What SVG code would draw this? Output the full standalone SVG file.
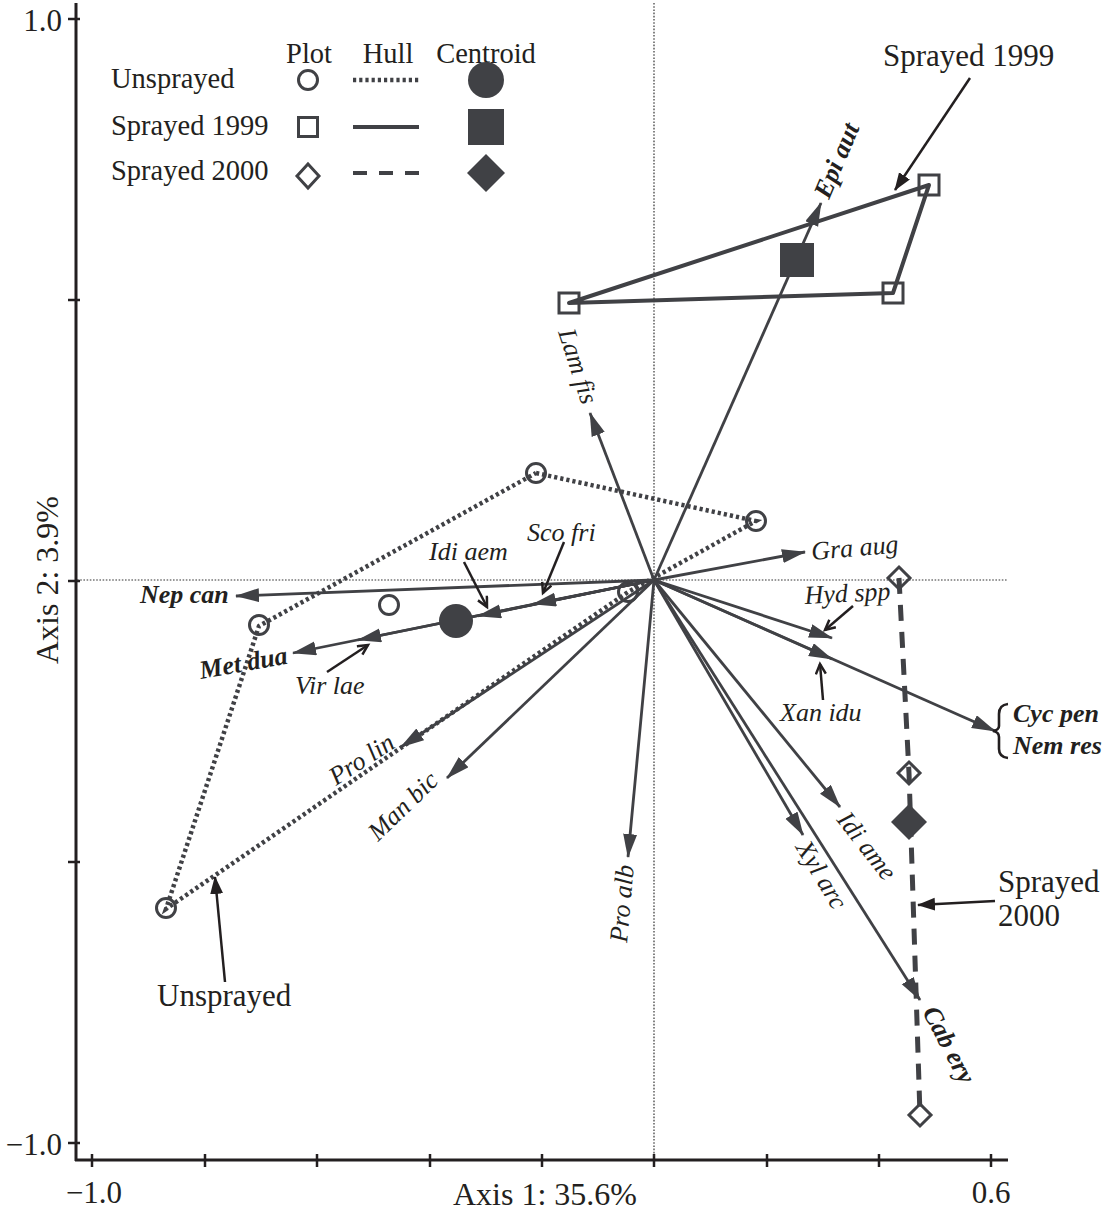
<svg xmlns="http://www.w3.org/2000/svg" width="1109" height="1212" viewBox="0 0 1109 1212">
<defs>
<marker id="ah" markerUnits="userSpaceOnUse" markerWidth="26" markerHeight="16" refX="23" refY="7" orient="auto"><path d="M0,0 L24,7 L0,14 z" fill="#404145"/></marker>
<marker id="fh" markerUnits="userSpaceOnUse" markerWidth="20" markerHeight="14" refX="17" refY="6.5" orient="auto"><path d="M0,0 L18,6.5 L0,13 z" fill="#231f20"/></marker>
<marker id="vh" markerUnits="userSpaceOnUse" markerWidth="14" markerHeight="14" refX="11" refY="6" orient="auto"><path d="M1,1 L11,6 L1,11" fill="none" stroke="#231f20" stroke-width="2.5"/></marker>
</defs>
<style>
.ax{stroke:#231f20;stroke-width:3;fill:none}
.tk{stroke:#231f20;stroke-width:2.5}
.ref{stroke:#333;stroke-width:1.2;stroke-dasharray:1.6 1.6;fill:none}
.sp{stroke:#404145;stroke-width:2.8;fill:none;marker-end:url(#ah)}
.ptr{stroke:#231f20;stroke-width:2.5;fill:none;marker-end:url(#vh)}
.call{stroke:#231f20;stroke-width:2.5;fill:none;marker-end:url(#fh)}
.hu{stroke:#404145;stroke-width:4.5;fill:none;stroke-dasharray:3.2 3}
.h99{stroke:#404145;stroke-width:4;fill:none;stroke-linejoin:round}
.h00{stroke:#404145;stroke-width:5;fill:none;stroke-dasharray:16 11}
.pt{fill:none;stroke:#404145;stroke-width:3}
.lg{fill:#fff;stroke:#404145;stroke-width:3}
.cen{fill:#404145;stroke:none}
.t{font-family:"Liberation Serif","Times New Roman",serif;fill:#231f20}
.lab{font-family:"Liberation Serif","Times New Roman",serif;font-style:italic;font-size:26px;fill:#231f20}
.b{font-weight:bold}
</style>

<g id="axes">
<line class="ax" x1="76" y1="3" x2="76" y2="1161"/>
<line class="ax" x1="75" y1="1160" x2="1008" y2="1160"/>
<g class="tk">
<line x1="68" y1="19" x2="80" y2="19"/><line x1="68" y1="300" x2="80" y2="300"/><line x1="68" y1="581" x2="80" y2="581"/><line x1="68" y1="862" x2="80" y2="862"/><line x1="68" y1="1143" x2="80" y2="1143"/>
<line x1="92" y1="1154" x2="92" y2="1167"/><line x1="205" y1="1154" x2="205" y2="1167"/><line x1="317" y1="1154" x2="317" y2="1167"/><line x1="430" y1="1154" x2="430" y2="1167"/><line x1="542" y1="1154" x2="542" y2="1167"/><line x1="654" y1="1154" x2="654" y2="1167"/><line x1="767" y1="1154" x2="767" y2="1167"/><line x1="879" y1="1154" x2="879" y2="1167"/><line x1="991" y1="1154" x2="991" y2="1167"/>
</g>
<text class="t" x="62" y="31" font-size="31" text-anchor="end">1.0</text>
<text class="t" x="62" y="1155" font-size="31" text-anchor="end">−1.0</text>
<text class="t" x="94" y="1203" font-size="31" text-anchor="middle">−1.0</text>
<text class="t" x="991" y="1203" font-size="31" text-anchor="middle">0.6</text>
<text class="t" x="545" y="1205" font-size="32" text-anchor="middle">Axis 1: 35.6%</text>
<text class="t" font-size="32" text-anchor="middle" transform="translate(58,580) rotate(-90)">Axis 2: 3.9%</text>
<line class="ref" x1="654" y1="3" x2="654" y2="1158"/>
<line class="ref" x1="77" y1="580" x2="1008" y2="580"/>
</g>

<g id="legend">
<text class="t" font-size="28.5" x="309" y="63" text-anchor="middle">Plot</text>
<text class="t" font-size="28.5" x="388" y="63" text-anchor="middle">Hull</text>
<text class="t" font-size="28.5" x="486" y="63" text-anchor="middle">Centroid</text>
<text class="t" font-size="28.5" x="111" y="88">Unsprayed</text>
<text class="t" font-size="28.5" x="111" y="135">Sprayed 1999</text>
<text class="t" font-size="28.5" x="111" y="180">Sprayed 2000</text>
<circle class="lg" cx="308" cy="80" r="9.5"/>
<rect class="lg" x="298.5" y="117.5" width="19" height="19"/>
<path class="lg" d="M308,164 L319,176 L308,188 L297,176 z"/>
<line class="hu" x1="353" y1="80" x2="419" y2="80"/>
<line class="h99" x1="353" y1="127" x2="419" y2="127"/>
<line class="h00" x1="353" y1="173" x2="419" y2="173" style="stroke-dasharray:14 12;stroke-width:4"/>
<circle class="cen" cx="486" cy="80" r="18"/>
<rect class="cen" x="468" y="109" width="36" height="36"/>
<path class="cen" d="M486,154 L505,173 L486,192 L467,173 z"/>
</g>

<g id="unsprayed-plot-hidden"><circle class="pt" cx="628" cy="592" r="9.5"/></g>

<g id="connectors">
<polyline class="hu" points="536,473 756,521 628,592 166,909 259,626 536,473"/>
<polygon class="h99" points="569,303 929,185 893,293"/>
<polyline class="h00" points="899,578 909,773 920,1115"/>
<line class="sp" x1="654" y1="580" x2="821" y2="203"/>
<line class="sp" x1="654" y1="580" x2="590" y2="413"/>
<line class="sp" x1="654" y1="580" x2="805" y2="552"/>
<line class="sp" x1="654" y1="580" x2="832" y2="638"/>
<line class="sp" x1="654" y1="580" x2="832" y2="659"/>
<line class="sp" x1="654" y1="580" x2="995" y2="731"/>
<line class="sp" x1="654" y1="580" x2="840" y2="807"/>
<line class="sp" x1="654" y1="580" x2="803" y2="835"/>
<line class="sp" x1="654" y1="580" x2="920" y2="1000"/>
<line class="sp" x1="654" y1="580" x2="628" y2="857"/>
<line class="sp" x1="654" y1="580" x2="447" y2="778"/>
<line class="sp" x1="654" y1="580" x2="401" y2="747"/>
<line class="sp" x1="654" y1="580" x2="293" y2="653"/>
<line class="sp" x1="654" y1="580" x2="358" y2="640"/>
<line class="sp" x1="654" y1="580" x2="478" y2="616"/>
<line class="sp" x1="654" y1="580" x2="533" y2="604"/>
<line class="sp" x1="654" y1="580" x2="236" y2="596"/>
<line class="ptr" x1="464" y1="562" x2="487" y2="607"/>
<line class="ptr" x1="564" y1="542" x2="543" y2="593"/>
<line class="ptr" x1="327" y1="672" x2="368" y2="645"/>
<line class="ptr" x1="853" y1="606" x2="825" y2="630"/>
<line class="ptr" x1="823" y1="700" x2="820" y2="664"/>
<line class="call" x1="970" y1="78" x2="895" y2="190"/>
<line class="call" x1="995" y1="901" x2="918" y2="905"/>
<line class="call" x1="225" y1="982" x2="215" y2="877"/>
<path d="M1008,704 Q999,705 999,714 L999,726 Q999,730 993,731 Q999,732 999,737 L999,749 Q999,757 1008,758" fill="none" stroke="#231f20" stroke-width="2.6"/>
</g>

<g id="unsprayed-plots">
<circle class="pt" cx="536" cy="473" r="9.5"/>
<circle class="pt" cx="756" cy="521" r="9.5"/>
<circle class="pt" cx="259" cy="625" r="9.5"/>
<circle class="pt" cx="166" cy="908" r="9.5"/>
<circle class="pt" cx="389" cy="605" r="9.5"/>
</g>
<g id="unsprayed-centroid"><circle class="cen" cx="456" cy="621" r="17"/></g>
<g id="sprayed1999-plots">
<rect class="pt" x="559" y="293" width="20" height="20"/>
<rect class="pt" x="919" y="175" width="20" height="20"/>
<rect class="pt" x="883" y="283" width="20" height="20"/>
</g>
<g id="sprayed1999-centroid"><rect class="cen" x="780" y="243" width="34" height="34"/></g>
<g id="sprayed2000-plots">
<path class="pt" d="M899,567 L910,578 L899,589 L888,578 z"/>
<path class="pt" d="M909,762 L920,773 L909,784 L898,773 z"/>
<path class="pt" d="M920,1104 L931,1115 L920,1126 L909,1115 z"/>
</g>
<g id="sprayed2000-centroid"><path class="cen" d="M909,804 L927,822 L909,840 L891,822 z"/></g>

<g id="species-labels">
<text class="lab b" transform="translate(829,200) rotate(-67)">Epi aut</text>
<text class="lab" transform="translate(558,332) rotate(72)">Lam fis</text>
<text class="lab" transform="translate(812,560) rotate(-5)">Gra aug</text>
<text class="lab" transform="translate(805,604) rotate(-3)">Hyd spp</text>
<text class="lab" x="780" y="721">Xan idu</text>
<text class="lab b" x="1013" y="722">Cyc pen</text>
<text class="lab b" x="1013" y="754">Nem res</text>
<text class="lab" transform="translate(836,820) rotate(52)">Idi ame</text>
<text class="lab" transform="translate(795,847) rotate(59)">Xyl arc</text>
<text class="lab b" transform="translate(922,1012) rotate(62)">Cab ery</text>
<text class="lab" transform="translate(627,943) rotate(-85)">Pro alb</text>
<text class="lab" transform="translate(378,842) rotate(-44)">Man bic</text>
<text class="lab" transform="translate(336,786) rotate(-33)">Pro lin</text>
<text class="lab b" transform="translate(201,679) rotate(-10)">Met dua</text>
<text class="lab" x="295" y="694">Vir lae</text>
<text class="lab" x="429" y="560">Idi aem</text>
<text class="lab" x="527" y="541">Sco fri</text>
<text class="lab b" x="140" y="603">Nep can</text>
</g>

<g id="group-labels">
<text class="t" font-size="31" x="883" y="66">Sprayed 1999</text>
<text class="t" font-size="31" x="998" y="892">Sprayed</text>
<text class="t" font-size="31" x="998" y="926">2000</text>
<text class="t" font-size="31" x="157" y="1006">Unsprayed</text>
</g>
</svg>
